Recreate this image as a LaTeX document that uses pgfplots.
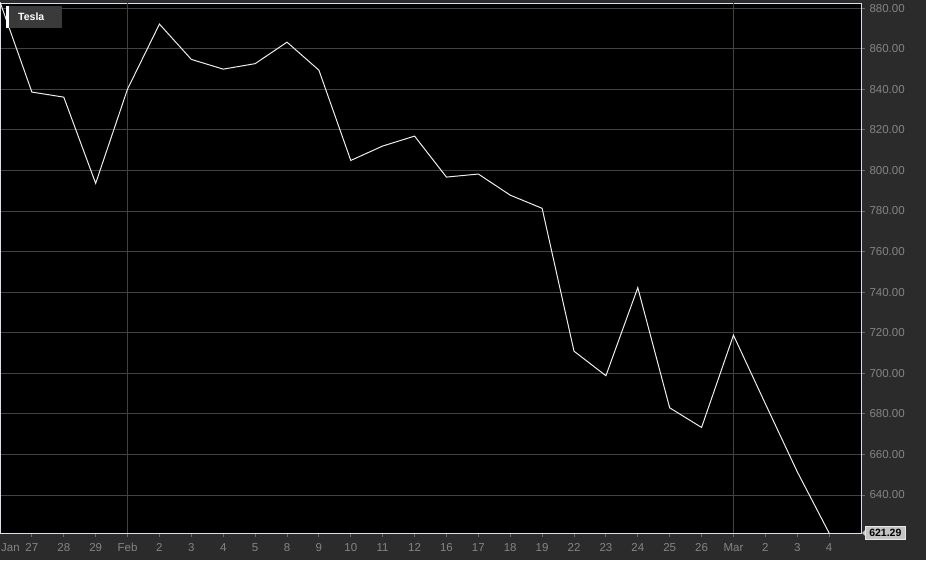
\documentclass[border=0pt]{standalone}
\usepackage{pgfplots}
\pgfplotsset{compat=1.18}
\usepackage{fontspec}
\setmainfont{Liberation Sans}
\definecolor{outer}{HTML}{2B2B2B}
\definecolor{gridc}{HTML}{424242}
\definecolor{tickc}{HTML}{6A6A6A}
\definecolor{labelc}{HTML}{848484}
\definecolor{framec}{HTML}{DCDEEA}
\definecolor{linec}{HTML}{EDEDED}
\definecolor{legbg}{HTML}{3A3A3A}
\definecolor{boxc}{HTML}{C4C4C4}
\begin{document}
\begin{tikzpicture}[x=1pt,y=1pt]
\useasboundingbox (0,0) rectangle (926,560);
\fill[outer] (0,0) rectangle (926,560);
\begin{axis}[
  at={(0pt,27pt)}, anchor=south west,
  scale only axis, width=861pt, height=530pt,
  xmin=0, xmax=27, ymin=621.29, ymax=882.5,
  axis background/.style={fill=black},
  axis line style={draw=framec, line width=0.9pt},
  xtick={1,...,26},
  xticklabels={27,28,29,Feb,2,3,4,5,8,9,10,11,12,16,17,18,19,22,23,24,25,26,Mar,2,3,4},
  ytick={640,660,...,880},
  xtick pos=bottom, ytick pos=right, yticklabel pos=right,
  tick align=outside,
  major tick length=4pt,
  tick style={tickc, line width=0.8pt},
  ymajorgrids,
  grid style={gridc, line width=0.8pt},
  extra x ticks={4,23}, extra x tick labels={},
  extra x tick style={grid=major, major tick length=0pt},
  x tick label style={font=\fontsize{11.5}{13}\selectfont, text=labelc, yshift=-3pt},
  y tick label style={font=\fontsize{11.5}{13}\selectfont, text=labelc, anchor=west, xshift=1pt},
  /pgf/number format/.cd, fixed, fixed zerofill, precision=2, assume math mode=true,
]
\addplot[linec, line width=1pt, mark=none] coordinates {
 (0,883) (1,838.6) (2,836.1) (3,793.6) (4,840.1) (5,872.1) (6,854.7)
 (7,849.9) (8,852.6) (9,863.2) (10,849.4) (11,804.9) (12,812.0) (13,816.9)
 (14,796.7) (15,798.2) (16,787.8) (17,781.3) (18,710.9) (19,698.8) (20,742.2)
 (21,683.0) (22,673.3) (23,718.8) (24,685.0) (25,651.5) (26,621.29)
};
\coordinate (br) at (rel axis cs:1,0);
\coordinate (tl) at (rel axis cs:0,1);
\coordinate (bl) at (rel axis cs:0,0);
\end{axis}
% legend box
\node[fill=legbg, anchor=north west, minimum width=56pt, minimum height=22pt, inner sep=0pt] (leg) at ([xshift=6pt,yshift=-3pt]tl) {};
\fill[white] (leg.north west) rectangle ([xshift=3pt]leg.south west);
\node[anchor=west, text=white, inner sep=0pt, font=\fontsize{10.5}{12}\selectfont\bfseries] at ([xshift=12pt]leg.west) {Tesla};
% Jan label
\node[anchor=north west, text=labelc, inner sep=0pt, font=\fontsize{11.5}{13}\selectfont] at ([xshift=1pt,yshift=-10pt]bl) {Jan};
% last value box
\fill[boxc] ([xshift=1pt]br) -- ([xshift=5pt,yshift=4pt]br) -- ([xshift=5pt,yshift=-4pt]br) -- cycle;
\node[fill=boxc, draw=white!60!boxc, line width=0.5pt, anchor=west, inner xsep=4pt, inner ysep=3pt, text=black, font=\fontsize{10.5}{12}\selectfont\bfseries] at ([xshift=4pt]br) {621.29};
\end{tikzpicture}
\end{document}
